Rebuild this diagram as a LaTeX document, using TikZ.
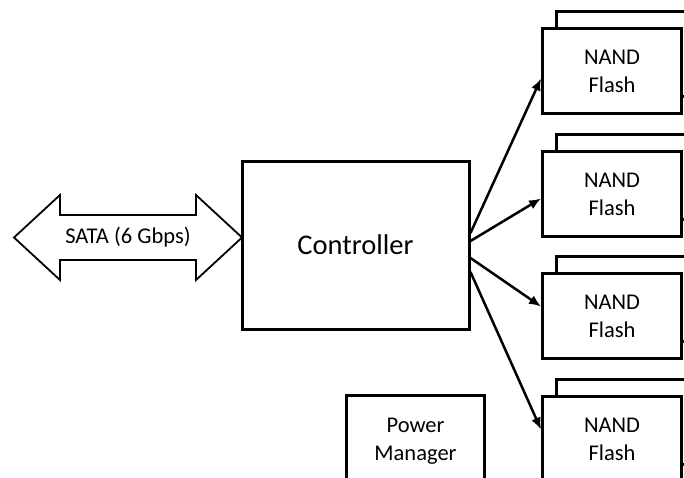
\documentclass[tikz,border=0pt]{standalone}
\usepackage{fontspec}
\setmainfont{Carlito}
\usetikzlibrary{arrows.meta}
\tikzset{
  box/.style={draw=black, line width=3pt, fill=white, inner sep=0pt, align=center,
    font=\fontsize{22.5}{28}\selectfont},
  nandbox/.style={box, minimum width=139pt, minimum height=85pt, anchor=north west},
  link/.style={line width=2.5pt, -{Latex[length=12pt,width=10pt]}},
  bus/.style={draw=black, line width=1.8pt, fill=white, line join=miter}
}
\begin{document}
\begin{tikzpicture}[x=1pt,y=-1pt]
\useasboundingbox (0,0) rectangle (684,477);
% SATA double arrow
\draw[bus] (14,237.5) -- (60,195) -- (60,215) -- (196,215) -- (196,195) -- (242,237.5)
  -- (196,280) -- (196,260) -- (60,260) -- (60,280) -- cycle;
\node[font=\fontsize{22.5}{28}\selectfont] (sata) at (128,237.5) {SATA (6 Gbps)};
% Controller
\node[box, minimum width=227pt, minimum height=168pt, font=\fontsize{28.5}{32}\selectfont]
  (ctrl) at (355.5,245) {Controller};
% Power manager
\node[box, minimum width=138pt, minimum height=92pt, anchor=north west] (pm) at (345,394) {Power\\Manager};
% NAND stacks
\node[nandbox] (nand1b) at (555,10) {};
\node[nandbox] (nand1) at (541,27) {NAND\\Flash};
\node[nandbox] (nand2b) at (555,133) {};
\node[nandbox] (nand2) at (541,150) {NAND\\Flash};
\node[nandbox] (nand3b) at (555,255) {};
\node[nandbox] (nand3) at (541,272) {NAND\\Flash};
\node[nandbox] (nand4b) at (555,378) {};
\node[nandbox] (nand4) at (541,395) {NAND\\Flash};
% links
\draw[link] ([yshift=12pt]ctrl.east) -- ([yshift=-7.5pt]nand1.west);
\draw[link] ([yshift=4pt]ctrl.east) -- ([yshift=-4.5pt]nand2.west);
\draw[link] ([yshift=-13pt]ctrl.east) -- ([yshift=9.5pt]nand3.west);
\draw[link] ([yshift=-27pt]ctrl.east) -- ([yshift=9.5pt]nand4.west);
\end{tikzpicture}
\end{document}
